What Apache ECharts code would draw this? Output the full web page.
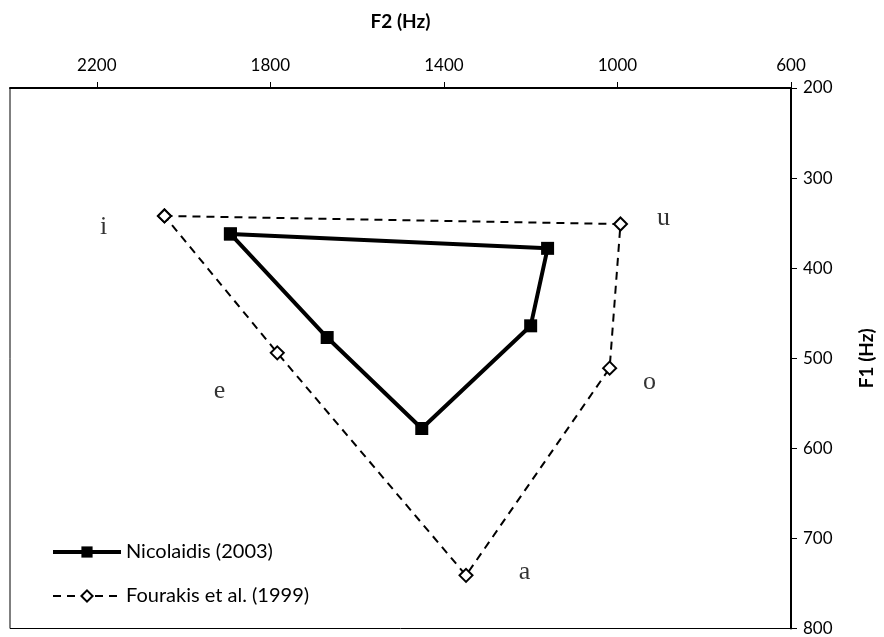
<!DOCTYPE html>
<html>
<head>
<meta charset="utf-8">
<script src="https://cdn.jsdelivr.net/npm/echarts@6/dist/echarts.min.js"></script>
<style>
  html, body { margin: 0; padding: 0; background: #fff; }
  #main { width: 884px; height: 637px; }
</style>
</head>
<body>
<div id="main"></div>
<script>
// vowel order follows the polygon: i -> u -> o -> a -> e -> back to i
var vowels = ['i', 'u', 'o', 'a', 'e'];
var nicF2 = [1892, 1161, 1200, 1451, 1669];
var nicF1 = [362, 378, 464, 578, 477];
var fouF2 = [2044, 993, 1018, 1349, 1784];
var fouF1 = [342, 351, 511, 741, 494];
// where the vowel letters sit (F2, F1)
var labelF2 = [2184, 894, 926, 1214, 1917];
var labelF1 = [355, 344, 527, 738, 536];
var f2Ticks = [600, 1000, 1400, 1800, 2200];

function closed(xs, ys) {
  var pts = xs.map(function (x, i) { return [x, ys[i]]; });
  pts.push(pts[0]);
  return pts;
}

var chart = echarts.init(document.getElementById('main'));
chart.setOption({
  animation: false,
  textStyle: { fontFamily: 'Lato', color: '#000' },
  grid: {
    left: 10, right: 89, top: 88, bottom: 8,
    show: true, borderColor: '#000', borderWidth: 1
  },
  legend: {
    left: 46, top: 537, orient: 'vertical',
    itemWidth: 68, itemHeight: 14, itemGap: 24,
    textStyle: { fontFamily: 'Lato', fontSize: 20, color: '#000' },
    data: [
      { name: 'Nicolaidis (2003)', lineStyle: { width: 4 } },
      { name: 'Fourakis et al. (1999)', lineStyle: { width: 2 } }
    ]
  },
  xAxis: {
    type: 'value', position: 'top', inverse: true,
    min: 600, max: 2400, interval: 400,
    name: 'F2 (Hz)', nameLocation: 'middle', nameGap: 57,
    nameTextStyle: { fontFamily: 'Lato', fontWeight: 'bold', fontSize: 19, color: '#000' },
    axisLine: { lineStyle: { color: '#000', width: 2 } },
    axisTick: { show: true, length: 6, lineStyle: { color: '#000' } },
    axisLabel: {
      fontFamily: 'Lato', fontSize: 17, color: '#000', margin: 14,
      showMaxLabel: false,
      formatter: function (v) { return f2Ticks.indexOf(v) >= 0 ? String(v) : ''; }
    },
    splitLine: { show: false }
  },
  yAxis: {
    type: 'value', position: 'right', inverse: true,
    min: 200, max: 800, interval: 100,
    name: 'F1 (Hz)', nameLocation: 'middle', nameGap: 66, nameRotate: 90,
    nameTextStyle: { fontFamily: 'Lato', fontWeight: 'bold', fontSize: 19, color: '#000' },
    axisLine: { lineStyle: { color: '#000', width: 2 } },
    axisTick: { show: true, length: 6, lineStyle: { color: '#000' } },
    axisLabel: { fontFamily: 'Lato', fontSize: 17, color: '#000', margin: 12 },
    splitLine: { show: false }
  },
  series: [
    {
      name: 'Nicolaidis (2003)', type: 'line',
      data: closed(nicF2, nicF1),
      symbol: 'rect', symbolSize: 13,
      itemStyle: { color: '#000' },
      lineStyle: { color: '#000', width: 4 }
    },
    {
      name: 'Fourakis et al. (1999)', type: 'line',
      data: closed(fouF2, fouF1),
      symbol: 'diamond', symbolSize: 13,
      itemStyle: { color: '#fff', borderColor: '#000', borderWidth: 2 },
      lineStyle: { color: '#000', width: 2, type: [8, 6] }
    },
    {
      type: 'scatter', silent: true,
      symbolSize: 0,
      data: labelF2.map(function (x, i) { return { value: [x, labelF1[i]], name: vowels[i] }; }),
      label: {
        show: true, position: 'inside',
        formatter: function (p) { return p.name; },
        fontFamily: 'Liberation Serif', fontSize: 26, color: '#000'
      }
    }
  ]
});
</script>
</body>
</html>
